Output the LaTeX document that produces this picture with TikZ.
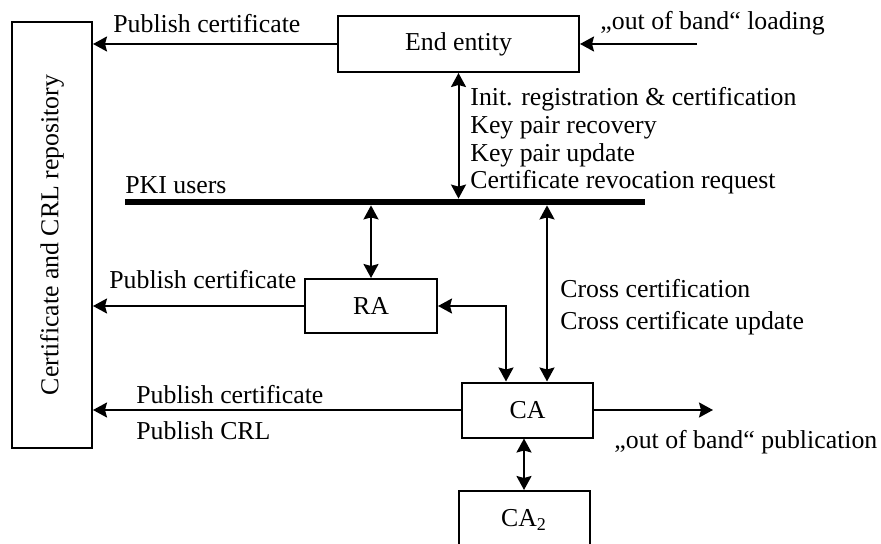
\documentclass[tikz,border=0pt]{standalone}
\usepackage{fontspec}
\setmainfont{Liberation Serif}
\usetikzlibrary{calc,arrows.meta}

\begin{document}
\begin{tikzpicture}[x=0.5pt,y=-0.5pt,
    font=\fontsize{12.9}{13.9}\selectfont,
    box/.style={draw,line width=1pt,inner sep=0pt},
    lbl/.style={inner sep=0pt,anchor=west},
    flow/.style={line width=1pt,-{Stealth[length=7pt,width=7.5pt,inset=1pt]}},
    both/.style={line width=1pt,{Stealth[length=7pt,width=7.5pt,inset=1pt]}-{Stealth[length=7pt,width=7.5pt,inset=1pt]}}]
  \useasboundingbox (0,0) rectangle (881,544);

  % boxes
  \node[box,rotate=90,minimum width=213pt,minimum height=40pt] (repo) at (52,235) {Certificate and CRL repository};
  \node[box,minimum width=120.5pt,minimum height=28pt] (ee) at (458.5,44) {End entity};
  \node[box,minimum width=66pt,minimum height=27pt] (ra) at (371,306) {RA};
  \node[box,minimum width=65.5pt,minimum height=27.5pt] (ca) at (527.5,410) {CA};
  \node[box,minimum width=65.5pt,minimum height=29pt] (ca2) at (524,520) {CA\textsubscript{2}};
  \node[fill=black,inner sep=0pt,minimum width=260pt,minimum height=3pt] (bar) at (385,202) {};

  % labels
  \node[lbl] (pubee) at (113,24) {Publish certificate};
  \node[lbl] (oobload) at (600,23) {„out of band“ loading};
  \node[lbl,anchor=north west,align=left] (eeops) at (470,87)
    {Init. registration \& certification\\Key pair recovery\\Key pair update\\Certificate revocation request};
  \node[lbl] (pki) at (125,185) {PKI users};
  \node[lbl] (pubra) at (109,280) {Publish certificate};
  \node[lbl,anchor=north west,align=left] (cross) at (560,279)
    {Cross certification\\[2pt]Cross certificate update};
  \node[lbl] (pubca) at (136,395) {Publish certificate};
  \node[lbl] (crlca) at (136,431) {Publish CRL};
  \node[lbl] (oobpub) at (614,442) {„out of band“ publication};

  % connectors
  \coordinate (oobin) at (697,44);
  \coordinate (oobout) at (713,410);
  \coordinate (cx) at ($(ca.north)+(19.5,0)$);
  \coordinate (rx) at ($(ca.north)+(-21.5,0)$);
  \draw[flow] (ee.west) -- (ee.west -| repo.south);
  \draw[flow] (oobin) -- (ee.east);
  \draw[both] (ee.south) -- (ee.south |- bar.north);
  \draw[both] (ra.north |- bar.south) -- (ra.north);
  \draw[both] (cx |- bar.south) -- (cx);
  \draw[both] (ra.east) -| (rx);
  \draw[flow] (ra.west) -- (ra.west -| repo.south);
  \draw[flow] (ca.west) -- (ca.west -| repo.south);
  \draw[flow] (ca.east) -- (oobout);
  \draw[both] (ca2.north) -- (ca2.north |- ca.south);
\end{tikzpicture}
\end{document}
